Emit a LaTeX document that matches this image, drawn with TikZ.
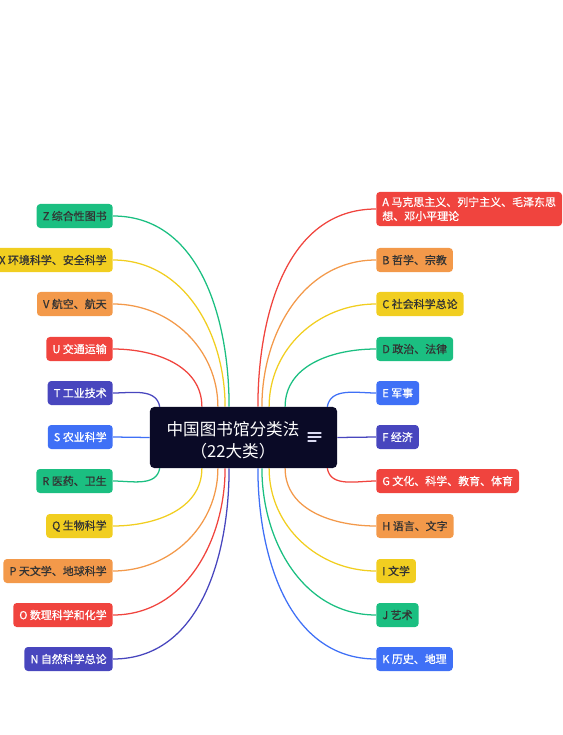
\documentclass[tikz,border=0pt]{standalone}
\usepackage{fontspec}
\usepackage{tikz}
\usetikzlibrary{backgrounds}
\newfontfamily\cjk{Noto Sans CJK SC}
\newfontfamily\cjkmed{Noto Sans CJK SC}[FakeBold=0.7]
\definecolor{mapgreen}{RGB}{27,191,129}
\definecolor{mapyellow}{RGB}{241,206,32}
\definecolor{maporange}{RGB}{243,153,74}
\definecolor{mapred}{RGB}{240,68,62}
\definecolor{mapindigo}{RGB}{72,70,190}
\definecolor{mapblue}{RGB}{63,112,246}
\definecolor{rootdark}{RGB}{10,10,38}

\begin{document}
\begin{tikzpicture}[
    x=0.025cm, y=0.025cm,
    leaf/.style={rectangle, rounded corners=2.5pt, minimum height=0.6cm,
                 inner xsep=4.3pt, inner ysep=3.5pt, align=left,
                 font=\cjkmed\fontsize{7.8}{10}\selectfont},
    lightleaf/.style={leaf, text=black!80},
    darkleaf/.style={leaf, text=white},
    lhs/.style={anchor=east},
    rhs/.style={anchor=west},
    rootbox/.style={rectangle, rounded corners=3pt, fill=rootdark,
                    minimum width=4.675cm, minimum height=1.525cm},
    roottext/.style={text=white, align=center, font=\cjk\fontsize{11.8}{15.6}\selectfont},
    link/.style={line width=0.9pt},
    menuline/.style={line width=0.9pt, draw=white!80!mapindigo, line cap=round}
]
\useasboundingbox (0,0) rectangle (562,-735);

\node[rootbox] (root) at (243.5,-437.5) {};
\node[roottext] (title) at (233,-440) {中国图书馆分类法\\（22大类）};
\coordinate (menu) at (308,-433);
\draw[menuline] (menu) -- ++(13,0);
\draw[menuline] ([yshift=-0.1cm]menu) -- ++(13,0);
\draw[menuline] ([yshift=-0.2cm]menu) -- ++(8,0);

\node[lightleaf, lhs, fill=mapgreen]  (Z) at (113,-216) {Z 综合性图书};
\node[lightleaf, lhs, fill=mapyellow] (X) at (113,-260) {X 环境科学、安全科学};
\node[lightleaf, lhs, fill=maporange] (V) at (113,-304) {V 航空、航天};
\node[darkleaf,  lhs, fill=mapred]    (U) at (113,-349) {U 交通运输};
\node[darkleaf,  lhs, fill=mapindigo] (T) at (113,-393) {T 工业技术};
\node[darkleaf,  lhs, fill=mapblue]   (S) at (113,-437) {S 农业科学};
\node[lightleaf, lhs, fill=mapgreen]  (R) at (113,-481) {R 医药、卫生};
\node[lightleaf, lhs, fill=mapyellow] (Q) at (113,-526) {Q 生物科学};
\node[lightleaf, lhs, fill=maporange] (P) at (113,-571) {P 天文学、地球科学};
\node[darkleaf,  lhs, fill=mapred]    (O) at (113,-615) {O 数理科学和化学};
\node[darkleaf,  lhs, fill=mapindigo] (N) at (113,-659) {N 自然科学总论};

\node[darkleaf,  rhs, fill=mapred]    (A) at (376,-209) {A 马克思主义、列宁主义、毛泽东思\\想、邓小平理论};
\node[lightleaf, rhs, fill=maporange] (B) at (376,-260) {B 哲学、宗教};
\node[lightleaf, rhs, fill=mapyellow] (C) at (376,-304) {C 社会科学总论};
\node[lightleaf, rhs, fill=mapgreen]  (D) at (376,-349) {D 政治、法律};
\node[darkleaf,  rhs, fill=mapblue]   (E) at (376,-393) {E 军事};
\node[darkleaf,  rhs, fill=mapindigo] (F) at (376,-437) {F 经济};
\node[darkleaf,  rhs, fill=mapred]    (G) at (376,-481) {G 文化、科学、教育、体育};
\node[lightleaf, rhs, fill=maporange] (H) at (376,-526) {H 语言、文字};
\node[lightleaf, rhs, fill=mapyellow] (I) at (376,-571) {I 文学};
\node[lightleaf, rhs, fill=mapgreen]  (J) at (376,-615) {J 艺术};
\node[darkleaf,  rhs, fill=mapblue]   (K) at (376,-659) {K 历史、地理};

\begin{pgfonlayer}{background}
\draw[link, mapgreen]  ([xshift=-0.36cm]root.north) to[out=90, in=0] (Z.east);
\draw[link, mapyellow] ([xshift=-0.46cm]root.north) to[out=90, in=0] (X.east);
\draw[link, maporange] ([xshift=-0.64cm]root.north) to[out=90, in=0] (V.east);
\draw[link, mapred]    ([xshift=-1.04cm]root.north) to[out=90, in=0] (U.east);
\draw[link, mapindigo] ([xshift=0.25cm]root.north west) to[out=100, in=0] (T.east);
\draw[link, mapblue]   (root.west) -- (S.east);
\draw[link, mapgreen]  ([xshift=0.25cm]root.south west) to[out=260, in=0] (R.east);
\draw[link, mapyellow] ([xshift=-1.04cm]root.south) to[out=270, in=0] (Q.east);
\draw[link, maporange] ([xshift=-0.64cm]root.south) to[out=270, in=0] (P.east);
\draw[link, mapred]    ([xshift=-0.46cm]root.south) to[out=270, in=0] (O.east);
\draw[link, mapindigo] ([xshift=-0.36cm]root.south) to[out=270, in=0] (N.east);

\draw[link, mapred]    ([xshift=0.36cm]root.north) to[out=90, in=180] (A.west);
\draw[link, maporange] ([xshift=0.46cm]root.north) to[out=90, in=180] (B.west);
\draw[link, mapyellow] ([xshift=0.64cm]root.north) to[out=90, in=180] (C.west);
\draw[link, mapgreen]  ([xshift=1.04cm]root.north) to[out=90, in=180] (D.west);
\draw[link, mapblue]   ([xshift=-0.25cm]root.north east) to[out=80, in=180] (E.west);
\draw[link, mapindigo] (root.east) -- (F.west);
\draw[link, mapred]    ([xshift=-0.25cm]root.south east) to[out=280, in=180] (G.west);
\draw[link, maporange] ([xshift=1.04cm]root.south) to[out=270, in=180] (H.west);
\draw[link, mapyellow] ([xshift=0.64cm]root.south) to[out=270, in=180] (I.west);
\draw[link, mapgreen]  ([xshift=0.46cm]root.south) to[out=270, in=180] (J.west);
\draw[link, mapblue]   ([xshift=0.36cm]root.south) to[out=270, in=180] (K.west);
\end{pgfonlayer}
\end{tikzpicture}
\end{document}
